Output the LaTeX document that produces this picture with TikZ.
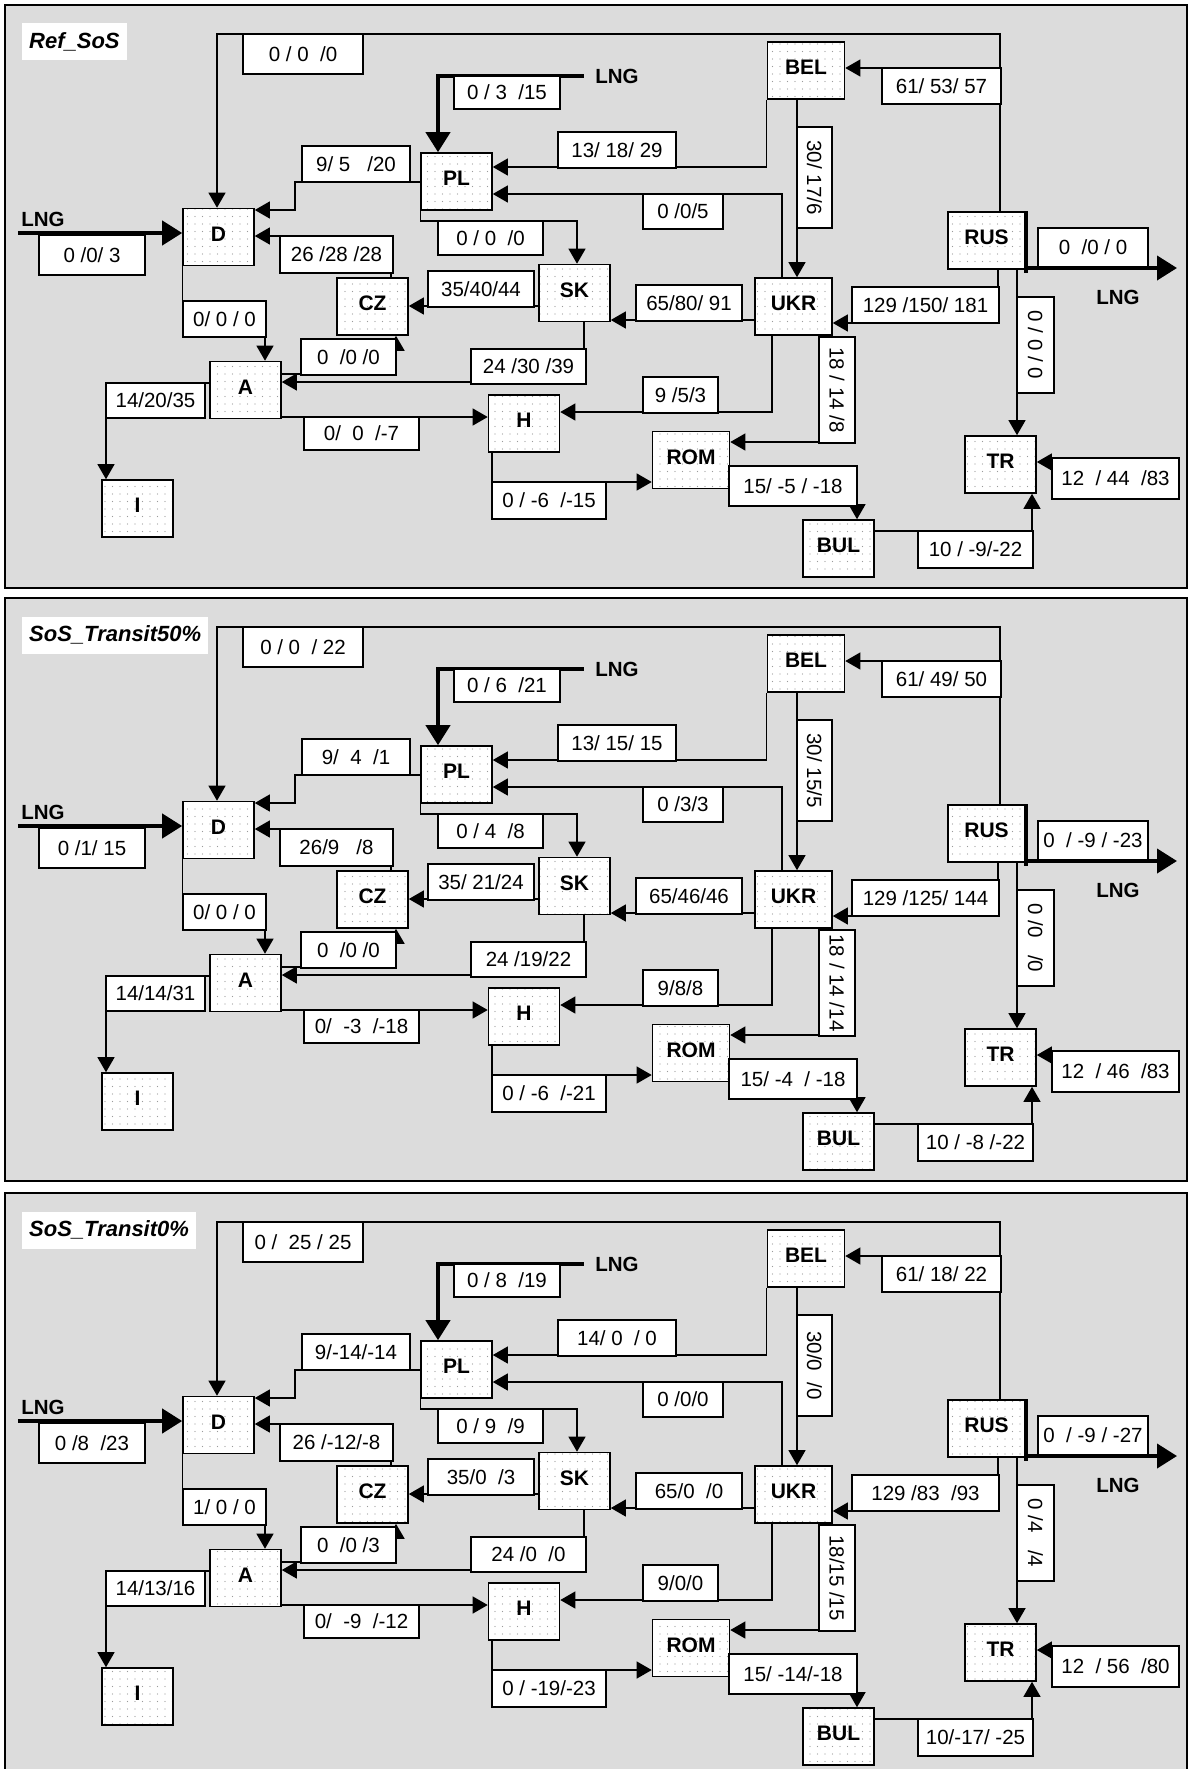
\documentclass[tikz,border=0pt]{standalone}
\usepackage{fontspec}
\setmainfont{Liberation Sans}
\usetikzlibrary{arrows.meta,patterns.meta}
\definecolor{panelbg}{HTML}{DCDCDC}
\definecolor{dotgray}{HTML}{9A9A9A}
\newcommand\lblfont{\fontsize{20.5}{22}\selectfont}
\newcommand\ctyfont{\fontsize{21}{23}\selectfont}
\tikzset{
  panel/.style={draw=black, fill=panelbg, line width=1.4pt},
  ttl/.style={fill=white, anchor=west, inner xsep=7pt, minimum height=37pt,
    font=\fontsize{22}{24}\selectfont\bfseries\itshape},
  cty/.style={draw, line width=1.6pt, minimum width=71pt, minimum height=57pt, inner sep=0pt,
    text height=15pt, text depth=7pt,
    preaction={fill=white}, pattern={Dots[distance=7.5pt,radius=0.55pt]}, pattern color=dotgray,
    font=\ctyfont\bfseries},
  wide/.style={minimum width=77pt},
  flw/.style={draw, fill=white, line width=1.3pt, inner sep=0pt, minimum height=36pt, font=\lblfont},
  lnk/.style={line width=1.2pt, -{Triangle[length=15pt,width=17pt]}},
  lng/.style={line width=4pt, -{Triangle[length=20pt,width=24pt]}},
  lngtxt/.style={font=\lblfont\bfseries},
}

% one panel of the network, flow values come from \vXX
\newcommand\network{
  \draw[panel] (5,5) rectangle (1187,588);
  \node[ttl] (ttl) at (22,42) {\vTitle};
  % countries
  \node[cty] (D) at (218.5,237) {D};
  \node[cty] (PL) at (456.5,181.5) {PL};
  \node[cty] (CZ) at (372.5,306.5) {CZ};
  \node[cty] (SK) at (574.5,293) {SK};
  \node[cty] (A) at (245.5,390) {A};
  \node[cty] (I) at (137.5,508.5) {I};
  \node[cty] (H) at (524,423.5) {H};
  \node[cty,wide] (BEL) at (806,70.5) {BEL};
  \node[cty,wide] (RUS) at (986.5,240.5) {RUS};
  \node[cty,wide] (UKR) at (793.5,306.5) {UKR};
  \node[cty,wide] (ROM) at (691,460) {ROM};
  \node[cty] (BUL) at (838.5,548.5) {BUL};
  \node[cty] (TR) at (1000.5,464.5) {TR};
  \node[lngtxt] (lngP) at (617,76) {LNG};
  \node[lngtxt] (lngD) at (43,219) {LNG};
  \node[lngtxt] (lngR) at (1118,297) {LNG};
  \coordinate (lngRend) at (1177,268);
  % pipelines
  \draw[lnk] (RUS.north -| 1000,0) |- (217,34) -- (D.north -| 217,0);
  \draw[lnk] (RUS.north -| 1000,0) |- (BEL.east |- 0,68);
  \draw[lng] ([xshift=-8pt]lngP.west) -| (PL.north -| 438,0);
  \draw[lnk] (BEL.south west) |- (PL.east |- 0,167);
  \draw[lnk] (UKR.north -| 782,0) |- (PL.east |- 0,194);
  \draw[lnk] (PL.west |- 0,182) -| (295,210) -- (D.east |- 0,210);
  \draw[lng] (lngD.west |- 0,233) -- (D.west |- 0,233);
  \draw[lnk] (CZ.north -| 391,0) |- (D.east |- 0,236);
  \draw[lnk] (PL.south west) |- (577,221) -- (SK.north -| 577,0);
  \draw[lnk] (SK.west |- 0,306) -- (CZ.east |- 0,306);
  \draw[lnk] (D.south west) |- (265,320) -- (A.north -| 265,0);
  \draw[lnk,line width=1.8pt] (A.east |- 0,374) -| (CZ.south -| 396,0);
  \draw[lnk] (SK.south -| 584,0) |- (A.east |- 0,382);
  \draw[lnk] (A.west |- 0,383) -| (I.north -| 106,0);
  \draw[lnk] (A.east |- 0,417) -- (H.west |- 0,417);
  \draw[lnk] (UKR.south -| 772,0) |- (H.east |- 0,412);
  \draw[lnk] (H.south -| 492,0) |- (ROM.west |- 0,482);
  \draw[lnk] (UKR.south -| 825,0) |- (ROM.east |- 0,442);
  \draw[lnk] (BEL.south -| 797,0) -- (UKR.north -| 797,0);
  \draw[lng] (RUS.east |- 0,268) -- (lngRend);
  \draw[line width=4pt] (RUS.north east) -- ([yshift=-3pt]RUS.south east);
  \draw[lnk] (RUS.south -| 998,0) |- (UKR.east |- 0,323);
  \draw[lnk] (RUS.south -| 1017,0) -- (TR.north -| 1017,0);
  \draw[lnk] (UKR.west |- 0,320) -- (SK.east |- 0,320);
  \draw[lnk] (ROM.east |- 0,466) -| (BUL.north -| 857,0);
  \draw[lnk] (BUL.east |- 0,531) -| (TR.south -| 1032,0);
  % flows
  \node[flw,minimum width=120pt,minimum height=40pt] (fRD) at (303,54) {\vRD};
  \node[flw,minimum width=106pt,minimum height=33pt] (fLP) at (507,92.5) {\vLP};
  \node[flw,minimum width=118pt] (fBP) at (617,150) {\vBP};
  \node[flw,minimum width=80pt,minimum height=35pt] (fUP) at (683,211.5) {\vUP};
  \node[flw,minimum width=108pt] (fPD) at (356,164) {\vPD};
  \node[flw,minimum width=106pt,minimum height=40pt] (fLD) at (92,255) {\vLD};
  \node[flw,minimum width=113pt,minimum height=37pt] (fCD) at (336.5,254.5) {\vCD};
  \node[flw,minimum width=105pt,minimum height=34pt] (fPS) at (490.5,238) {\vPS};
  \node[flw,minimum width=106pt] (fSC) at (481,289) {\vSC};
  \node[flw,minimum width=83pt] (fDA) at (224.5,319) {\vDA};
  \node[flw,minimum width=95pt] (fAC) at (348.5,357) {\vAC};
  \node[flw,minimum width=115pt,minimum height=35pt] (fSA) at (528.5,366.5) {\vSA};
  \node[flw,minimum width=99pt,minimum height=35pt] (fAI) at (155.5,400.5) {\vAI};
  \node[flw,minimum width=115pt,minimum height=33pt] (fAH) at (361.5,433.5) {\vAH};
  \node[flw,minimum width=75pt] (fUH) at (680.5,395) {\vUH};
  \node[flw,minimum width=114pt,minimum height=37pt] (fHR) at (549,500.5) {\vHR};
  \node[flw,rotate=-90,minimum width=106pt] (fUR) at (837,390) {\vUR};
  \node[flw,rotate=-90,minimum width=101pt,minimum height=35pt] (fBU) at (814.5,177.5) {\vBU};
  \node[flw,minimum width=119pt] (fRB) at (941.5,86) {\vRB};
  \node[flw,minimum width=110pt,minimum height=39pt] (fRL) at (1093,247.5) {\vRL};
  \node[flw,minimum width=147pt] (fRU) at (925.5,305) {\vRU};
  \node[flw,rotate=-90,minimum width=96pt,minimum height=37pt] (fRT) at (1035.5,345) {\vRT};
  \node[flw,minimum width=106pt] (fUS) at (689,303) {\vUS};
  \node[flw,minimum width=128pt,minimum height=40pt] (fRM) at (793,486) {\vRM};
  \node[flw,minimum width=115pt,minimum height=37pt] (fBT) at (975.5,549.5) {\vBT};
  \node[flw,minimum width=127pt,minimum height=41pt] (fIT) at (1115.5,478.5) {\vIT};
  \draw[lnk] (fIT.west |- 0,462) -- (TR.east |- 0,462);
}

\begin{document}
\begin{tikzpicture}[x=1pt,y=-1pt]
  \useasboundingbox (0,0) rectangle (1190,1769);

  \begin{scope}[name prefix=r-]
    \def\vTitle{Ref\_SoS}
    \def\vRD{0 /\ 0 \ /0}    \def\vLP{0 / 3 \ /15}  \def\vBP{13/ 18/ 29}
    \def\vUP{0 /0/5}         \def\vPD{9/ 5 \ \ /20} \def\vLD{0 /0/ 3}
    \def\vCD{26 /28 /28}     \def\vPS{0 / 0 \ /0}   \def\vSC{35/40/44}
    \def\vDA{0/ 0 / 0}       \def\vAC{0 \ /0 /0}    \def\vSA{24 /30 /39}
    \def\vAI{14/20/35}       \def\vAH{0/ \ 0 \ /-7} \def\vUH{9 /5/3}
    \def\vHR{0 / -6 \ /-15}  \def\vUR{18 / 14 /8}   \def\vBU{30/ 17/6}
    \def\vRB{61/ 53/ 57}     \def\vRL{0 \ /0 / 0}   \def\vRU{129 /150/ 181}
    \def\vRT{0 / 0 / 0}      \def\vUS{65/80/ 91}    \def\vRM{15/ -5 / -18}
    \def\vBT{10 / -9/-22}    \def\vIT{12 \ / 44 \ /83}
    \network
  \end{scope}

  \begin{scope}[yshift=-593pt, name prefix=t-]
    \def\vTitle{SoS\_Transit50\%}
    \def\vRD{0 /\ 0 \ / 22}  \def\vLP{0 / 6 \ /21}  \def\vBP{13/ 15/ 15}
    \def\vUP{0 /3/3}         \def\vPD{9/ \ 4 \ /1}  \def\vLD{0 /1/ 15}
    \def\vCD{26/9 \ \ /8}    \def\vPS{0 / 4 \ /8}   \def\vSC{35/ 21/24}
    \def\vDA{0/ 0 / 0}       \def\vAC{0 \ /0 /0}    \def\vSA{24 /19/22}
    \def\vAI{14/14/31}       \def\vAH{0/ \ -3 \ /-18} \def\vUH{9/8/8}
    \def\vHR{0 / -6 \ /-21}  \def\vUR{18 / 14 /14}  \def\vBU{30/ 15/5}
    \def\vRB{61/ 49/ 50}     \def\vRL{0 \ / -9 / -23} \def\vRU{129 /125/ 144}
    \def\vRT{0 /0 \ \ /0}    \def\vUS{65/46/46}     \def\vRM{15/ -4 \ / -18}
    \def\vBT{10 / -8 /-22}   \def\vIT{12 \ / 46 \ /83}
    \network
  \end{scope}

  \begin{scope}[yshift=-1188pt, name prefix=z-]
    \def\vTitle{SoS\_Transit0\%}
    \def\vRD{0 / \ 25 / 25}  \def\vLP{0 / 8 \ /19}  \def\vBP{14/ 0 \ / 0}
    \def\vUP{0 /0/0}         \def\vPD{9/-14/-14}    \def\vLD{0 /8 \ /23}
    \def\vCD{26 /-12/-8}     \def\vPS{0 / 9 \ /9}   \def\vSC{35/0 \ /3}
    \def\vDA{1/ 0 / 0}       \def\vAC{0 \ /0 /3}    \def\vSA{24 /0 \ /0}
    \def\vAI{14/13/16}       \def\vAH{0/ \ -9 \ /-12} \def\vUH{9/0/0}
    \def\vHR{0 / -19/-23}    \def\vUR{18/15 /15}    \def\vBU{30/0 \ /0}
    \def\vRB{61/ 18/ 22}     \def\vRL{0 \ / -9 / -27} \def\vRU{129 /83 \ /93}
    \def\vRT{0 /4 \ \ /4}    \def\vUS{65/0 \ /0}    \def\vRM{15/ -14/-18}
    \def\vBT{10/-17/ -25}    \def\vIT{12 \ / 56 \ /80}
    \network
  \end{scope}
\end{tikzpicture}
\end{document}
